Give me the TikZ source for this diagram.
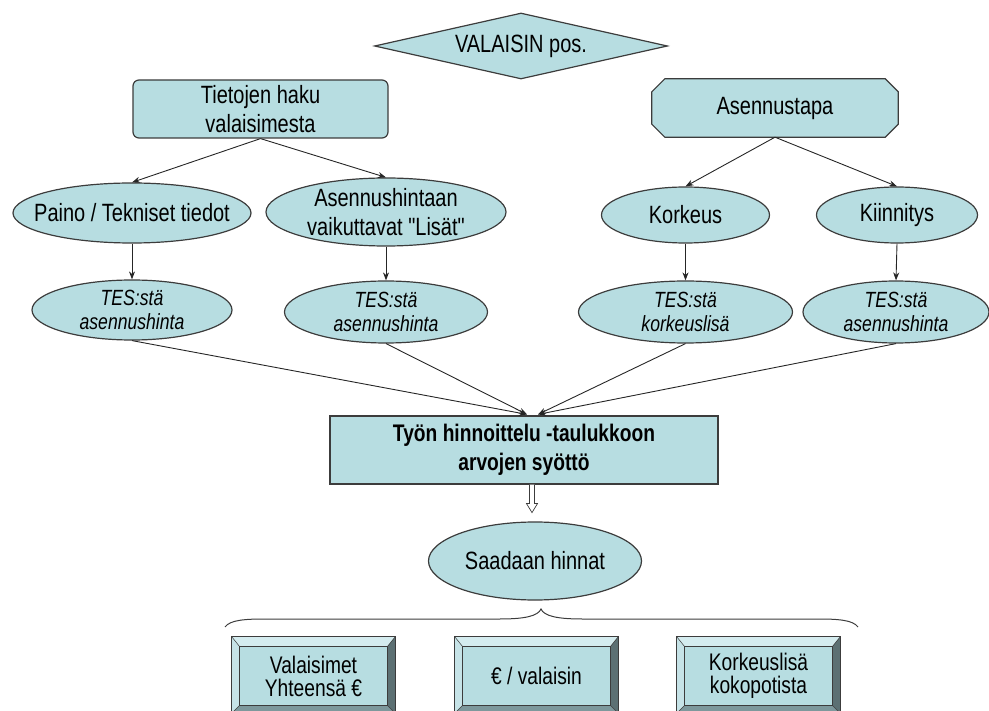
\documentclass[tikz,border=0pt]{standalone}
\usepackage{fontspec}
\setmainfont{Liberation Sans}[FakeStretch=0.8]
\newfontfamily\plainq{Liberation Sans}[FakeStretch=0.8]
\usetikzlibrary{shapes.geometric,arrows.meta,calc}
\definecolor{tealf}{RGB}{183,221,225}
\definecolor{linec}{RGB}{60,60,60}
\definecolor{bevtop}{RGB}{212,236,239}
\definecolor{bevleft}{RGB}{198,227,231}
\definecolor{bevright}{RGB}{92,112,115}
\definecolor{bevbot}{RGB}{125,152,156}

\newcommand\bevbox[3]{%
  \node[inner sep=0pt, minimum width=163pt, minimum height=76pt] (#1) at (#2,675) {};
  \fill[bevtop] (#1.north west) -- (#1.north east) -- ($(#1.north east)+(-8,10)$) -- ($(#1.north west)+(8,10)$) -- cycle;
  \fill[bevleft] (#1.north west) -- ($(#1.north west)+(8,10)$) -- ($(#1.south west)+(8,-8)$) -- (#1.south west) -- cycle;
  \fill[bevright] (#1.north east) -- (#1.south east) -- ($(#1.south east)+(-8,-8)$) -- ($(#1.north east)+(-8,10)$) -- cycle;
  \fill[bevbot] (#1.south west) -- ($(#1.south west)+(8,-8)$) -- ($(#1.south east)+(-8,-8)$) -- (#1.south east) -- cycle;
  \draw[linec, line width=0.5pt] (#1.north west) -- ($(#1.north west)+(8,10)$)
        (#1.north east) -- ($(#1.north east)+(-8,10)$)
        (#1.south west) -- ($(#1.south west)+(8,-8)$)
        (#1.south east) -- ($(#1.south east)+(-8,-8)$);
  \draw[shp] ($(#1.north west)+(8,10)$) rectangle ($(#1.south east)+(-8,-8)$);
  \draw[draw=linec, line width=1.2pt] (#1.north west) rectangle (#1.south east);
  \node[txt, font=\fontsize{24}{23}\selectfont] (#1-t) at ($(#1.center)+(0,1)$) {#3};
}

\begin{document}
\begin{tikzpicture}[x=1pt,y=-1pt,
  shp/.style={draw=linec, fill=tealf, line width=1.2pt, inner sep=0pt},
  txt/.style={align=center, inner sep=0pt, font=\fontsize{25}{29}\selectfont},
  testxt/.style={align=center, inner sep=0pt, font=\fontsize{22}{24}\selectfont\itshape},
  ell/.style={shp, ellipse},
  arr/.style={draw=black!85, line width=0.9pt, -{Stealth[length=8pt,width=6pt]}},
]
\useasboundingbox (0,0) rectangle (989,711);

% top diamond
\node[shp, diamond, minimum width=293pt, minimum height=66pt] (dia) at (521,46) {};
\node[txt] (dia-t) at (dia) {VALAISIN pos.};

% Tietojen haku
\node[shp, rectangle, rounded corners=6pt, minimum width=255pt, minimum height=58pt] (tiet) at (260.5,109) {};
\node[txt] (tiet-t) at (tiet) {Tietojen haku\\valaisimesta};

% Asennustapa (chamfered)
\node[inner sep=0pt, minimum width=246pt, minimum height=58pt] (asen) at (775,108) {};
\draw[shp] ($(asen.north west)+(13,0)$) -- ($(asen.north east)+(-13,0)$) -- ($(asen.north east)+(0,13)$)
  -- ($(asen.south east)+(0,-13)$) -- ($(asen.south east)+(-13,0)$) -- ($(asen.south west)+(13,0)$)
  -- ($(asen.south west)+(0,-13)$) -- ($(asen.north west)+(0,13)$) -- cycle;
\node[txt] (asen-t) at (asen) {Asennustapa};

% second row ellipses
\node[ell, minimum width=238pt, minimum height=60pt] (paino) at (132,213) {};
\node[txt] (paino-t) at (paino) {Paino / Tekniset tiedot};
\node[ell, minimum width=240pt, minimum height=68pt] (asenh) at (386,212) {};
\node[txt] (asenh-t) at (asenh) {Asennushintaan\\vaikuttavat {\plainq"}Lisät{\plainq"}};
\node[ell, minimum width=168pt, minimum height=56pt] (kork) at (685.5,215) {};
\node[txt] (kork-t) at (kork) {Korkeus};
\node[ell, minimum width=161pt, minimum height=56pt] (kiin) at (897,215) {};
\node[txt] (kiin-t) at (kiin) {Kiinnitys};

% TES ellipses
\node[ell, minimum width=200pt, minimum height=60pt] (tes1) at (132,310) {};
\node[testxt] (tes1-t) at (tes1) {TES:stä\\asennushinta};
\node[ell, minimum width=203pt, minimum height=62pt] (tes2) at (386,312) {};
\node[testxt] (tes2-t) at (tes2) {TES:stä\\asennushinta};
\node[ell, minimum width=214pt, minimum height=62pt] (tes3) at (685.5,312) {};
\node[testxt] (tes3-t) at (tes3) {TES:stä\\korkeuslisä};
\node[ell, minimum width=186pt, minimum height=62pt] (tes4) at (896,312) {};
\node[testxt] (tes4-t) at (tes4) {TES:stä\\asennushinta};

% central box
\node[shp, rectangle, minimum width=388pt, minimum height=68pt, align=center,
      font=\fontsize{24}{29}\selectfont\bfseries] (cbox) at (524,450) {Työn hinnoittelu -taulukkoon\\arvojen syöttö};

% Saadaan hinnat
\node[ell, minimum width=213pt, minimum height=78pt] (saad) at (535,561) {};
\node[txt] (saad-t) at (saad) {Saadaan hinnat};

% connectors
\draw[arr] (tiet.south) -- (paino.north);
\draw[arr] (tiet.south) -- (asenh.north);
\draw[arr] (asen.south) -- (kork.north);
\draw[arr] (asen.south) -- (kiin.north);
\draw[arr] (paino.south) -- (tes1.north);
\draw[arr] (asenh.south) -- (tes2.north);
\draw[arr] (kork.south) -- (tes3.north);
\draw[arr] (kiin.south) -- (tes4.north);
\coordinate (inL) at ($(cbox.north)+(3,-1)$);
\coordinate (inR) at ($(cbox.north)+(14,-1)$);
\draw[arr] (tes1.south) -- (inL);
\draw[arr] (tes2.south) -- (inL);
\draw[arr] (tes3.south) -- (inR);
\draw[arr] (tes4.south) -- (inR);

% hollow block arrow
\coordinate (ha) at ($(cbox.south)+(8,0)$);
\draw[linec, fill=white, line width=0.7pt, shift={(ha)}]
  (-2.5,0) -- (-2.5,19) -- (-5.5,19) -- (0,28) -- (5.5,19) -- (2.5,19) -- (2.5,0);

% brace
\draw[linec, line width=1pt] (225,627) .. controls (230,620) and (245,619) .. (265,619) -- (500,619)
  .. controls (525,619) and (538,616) .. (541,609) .. controls (544,616) and (557,619) .. (582,619)
  -- (818,619) .. controls (838,619) and (853,620) .. (858,627);

% bottom bevel boxes
\bevbox{bx1}{313.5}{Valaisimet\\Yhteensä €}
\bevbox{bx2}{536.5}{€ / valaisin}
\bevbox{bx3}{758.5}{Korkeuslisä\\kokopotista}

\end{tikzpicture}
\end{document}
